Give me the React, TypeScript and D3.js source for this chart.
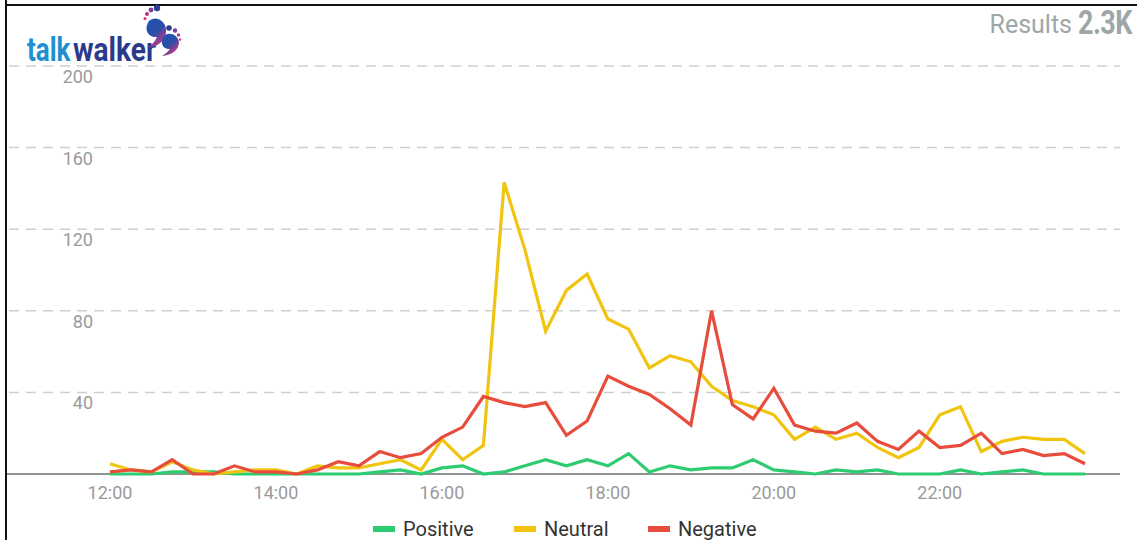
import React from "react";
import * as d3 from "d3";

const startTime = "12:00";
const endTime = "23:45";
const tickLabels = ["12:00", "14:00", "16:00", "18:00", "20:00", "22:00"];
const yTicks = [40, 80, 120, 160, 200];

const positive = [0, 0, 0, 1, 1, 1, 0, 0, 0, 0, 0, 0, 0, 1, 2, 0, 3, 4, 0, 1, 4, 7, 4, 7, 4, 10, 1, 4, 2, 3, 3, 7, 2, 1, 0, 2, 1, 2, 0, 0, 0, 2, 0, 1, 2, 0, 0, 0];
const neutral = [5, 2, 1, 6, 2, 0, 1, 2, 2, 0, 4, 3, 3, 5, 7, 2, 17, 7, 14, 143, 110, 70, 90, 98, 76, 71, 52, 58, 55, 43, 36, 33, 29, 17, 23, 17, 20, 13, 8, 13, 29, 33, 11, 16, 18, 17, 17, 10];
const negative = [1, 2, 1, 7, 0, 0, 4, 1, 1, 0, 2, 6, 4, 11, 8, 10, 18, 23, 38, 35, 33, 35, 19, 26, 48, 43, 39, 32, 24, 80, 34, 27, 42, 24, 21, 20, 25, 16, 12, 21, 13, 14, 20, 10, 12, 9, 10, 5];

const seriesNames = ["Positive", "Neutral", "Negative"];
const seriesColors = ["#2ecc71", "#f1c40f", "#e74c3c"];
const resultsValue = "2.3K";

const parse = d3.timeParse("%H:%M");

export default function App() {
  const W = 1137;
  const H = 540;
  const t0 = parse(startTime) as Date;
  const t1 = parse(endTime) as Date;
  const times = d3.timeMinute.every(15)!.range(t0, new Date(t1.getTime() + 1000));
  const x = d3.scaleTime().domain([t0, t1]).range([110, 1085]);
  const y = d3.scaleLinear().domain([0, 200]).range([474, 66]);
  const fmt = d3.timeFormat("%H:%M");
  const ticks = tickLabels.map((l) => parse(l) as Date);

  const allSeries = [positive, neutral, negative];
  const line = d3
    .line<number>()
    .x((_, i) => x(times[i]))
    .y((d) => y(d));

  const legendX = [373, 514, 648];

  return (
    <svg width={W} height={H} style={{ position: "absolute", left: 0, top: 0, background: "#fff" }}>
      <rect x={0} y={0} width={W} height={H} fill="#fff" />
      {/* frame */}
      <line x1={6} y1={0} x2={6} y2={H} stroke="#111" strokeWidth={2} />
      <line x1={5} y1={5} x2={W} y2={5} stroke="#111" strokeWidth={2} />

      {/* grid */}
      {yTicks.map((t) => (
        <g key={t}>
          <line x1={9} x2={1120} y1={y(t)} y2={y(t)} stroke="#cfcfcf" strokeWidth={1.5} strokeDasharray="10,7" />
          <text x={93} y={y(t) + 17} textAnchor="end" fontFamily="Roboto" fontSize={18} fill="#9a9a9a">
            {t}
          </text>
        </g>
      ))}

      {/* axis */}
      <line x1={7} x2={1120} y1={y(0)} y2={y(0)} stroke="#8f9393" strokeWidth={2} />
      {ticks.map((t) => (
        <text key={fmt(t)} x={x(t)} y={499} textAnchor="middle" fontFamily="Roboto" fontSize={18} fill="#9a9a9a">
          {fmt(t)}
        </text>
      ))}

      {/* lines */}
      {allSeries.map((s, i) => (
        <path key={seriesNames[i]} d={line(s) || ""} fill="none" stroke={seriesColors[i]} strokeWidth={3.2} strokeLinejoin="miter" />
      ))}

      {/* legend */}
      {seriesNames.map((n, i) => (
        <g key={n}>
          <rect x={legendX[i]} y={526} width={22} height={6} fill={seriesColors[i]} />
          <text x={legendX[i] + 30} y={536} fontFamily="Roboto" fontSize={20} fill="#333">
            {n}
          </text>
        </g>
      ))}

      {/* results */}
      <text x={1072} y={33} textAnchor="end" fontFamily="Roboto" fontSize={25} fill="#9ea6a6">
        Results
      </text>
      <text transform="translate(1078,34) scale(1,1.22)" x={0} y={0} fontFamily="Roboto" fontSize={27} fontWeight="bold" fill="#9ea6a6" letterSpacing={-0.5}>
        {resultsValue}
      </text>

      {/* logo */}
      <text transform="translate(27,61) scale(1,1.27)" x={0} y={0} fontFamily="Roboto" fontSize={26} fontWeight={700} fill="#1e8fd0">
        talk
      </text>
      <text transform="translate(73,61) scale(1.08,1.27)" x={0} y={0} fontFamily="Roboto" fontSize={26} fontWeight={700} fill="#2b3a8c">
        walker
      </text>
      <defs>
        <linearGradient id="fp" x1="0" y1="0" x2="0.6" y2="1">
          <stop offset="0" stopColor="#1f55b0" />
          <stop offset="0.55" stopColor="#2a4ea8" />
          <stop offset="1" stopColor="#d6327e" />
        </linearGradient>
      </defs>
      {/* footprint 1 */}
      <path d="M149,21 C143,30 149,38 157,37 C155,42 151,46 147,48 C158,47 167,40 166,29 C165,20 155,15 149,21 Z" fill="url(#fp)" />
      <circle cx={157} cy={8} r={3.2} fill="#2a3f8f" />
      <circle cx={151} cy={10} r={2.4} fill="#7b3f9e" />
      <circle cx={147} cy={14} r={2} fill="#b0358a" />
      <circle cx={145} cy={18.5} r={1.5} fill="#d6327e" />
      {/* footprint 2 */}
      <path d="M164,36 C159,42 163,50 170,49 C168,52 165,54 162,56 C172,55 179,50 179,42 C178,35 169,31 164,36 Z" fill="url(#fp)" />
      <circle cx={169} cy={28} r={2.8} fill="#2a3f8f" />
      <circle cx={175} cy={30.5} r={2.2} fill="#7b3f9e" />
      <circle cx={178.5} cy={35} r={1.7} fill="#b0358a" />
      <circle cx={180} cy={39.5} r={1.3} fill="#d6327e" />
    </svg>
  );
}
